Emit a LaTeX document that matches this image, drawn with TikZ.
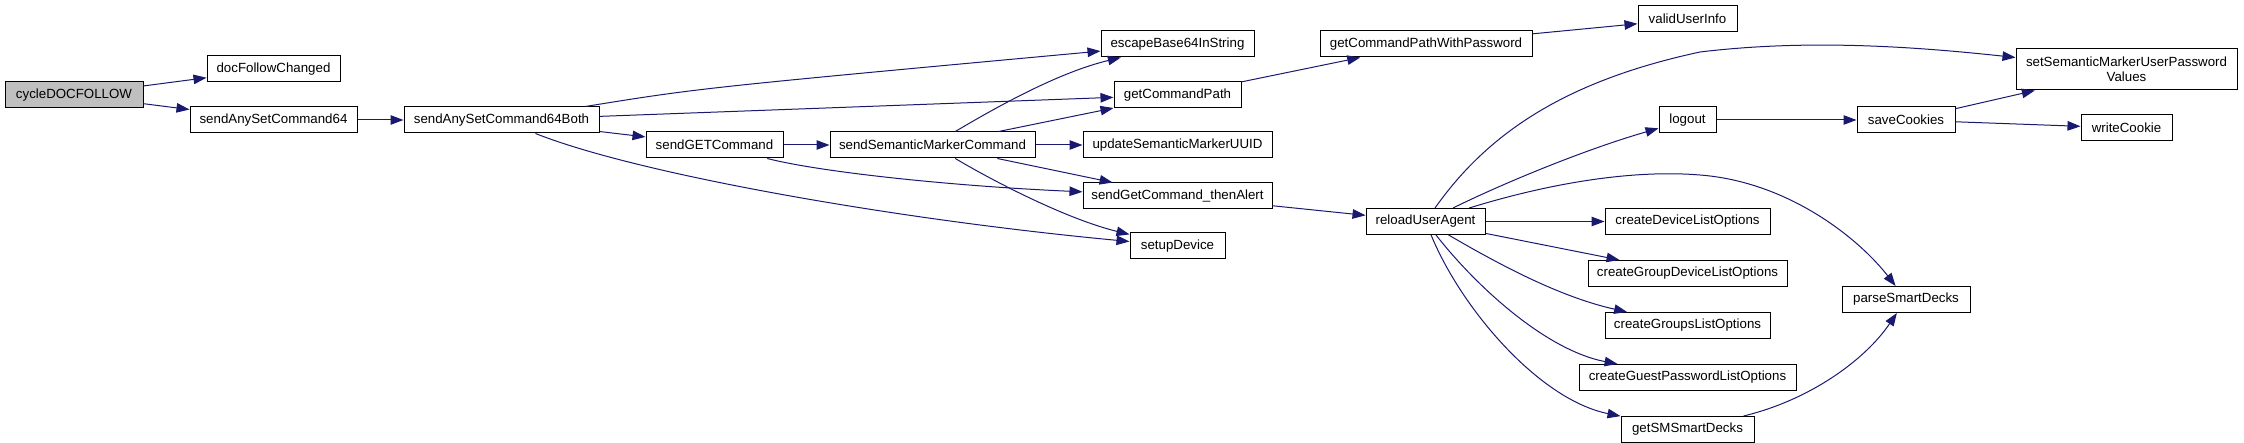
\documentclass[tikz,border=0pt]{standalone}
\usepackage{fontspec}
\setmainfont{Liberation Sans}
\usetikzlibrary{arrows.meta,positioning}
\definecolor{callcolor}{RGB}{25,25,112}
\definecolor{rootcolor}{RGB}{191,191,191}

\begin{document}
\begin{tikzpicture}[x=1pt, y=-1pt,
  func/.style={draw=black, line width=1pt, fill=white, minimum height=26pt,
               inner sep=0pt, align=center, font=\fontsize{13.3}{15.5}\selectfont},
  arr/.style={-{Triangle[length=13pt,width=9.5pt]}, line width=1pt, callcolor}
]
\useasboundingbox (0,0) rectangle (2244,443);

\node[func, fill=rootcolor, minimum width=138pt] (cyc) at (74,95) {cycleDOCFOLLOW};
\node[func, minimum width=133pt] (dfc) at (273.5,69) {docFollowChanged};
\node[func, minimum width=167pt] (sasc) at (273.5,120) {sendAnySetCommand64};
\node[func, minimum width=195pt] (both) at (501.5,120) {sendAnySetCommand64Both};
\node[func, minimum width=137pt] (sget) at (714.5,145) {sendGETCommand};
\node[func, minimum width=205pt] (ssmc) at (932.5,145) {sendSemanticMarkerCommand};

\node[func, minimum width=153pt] (esc) at (1177.5,44) {escapeBase64InString};
\node[func, minimum width=127pt] (gcp) at (1177.5,95) {getCommandPath};
\node[func, minimum width=189pt] (uuid) at (1177.5,145) {updateSemanticMarkerUUID};
\node[func, minimum width=189pt] (alert) at (1177.5,196) {sendGetCommand\_thenAlert};
\node[func, minimum width=95pt] (setup) at (1177.5,246) {setupDevice};

\node[func, minimum width=212pt] (gcpwp) at (1426,44) {getCommandPathWithPassword};
\node[func, minimum width=119pt] (reload) at (1425.5,221.5) {reloadUserAgent};

\node[func, minimum width=99pt] (valid) at (1687.5,19) {validUserInfo};
\node[func, minimum width=57pt] (logout) at (1687.5,120) {logout};
\node[func, minimum width=165pt] (cdlo) at (1687.5,221.5) {createDeviceListOptions};
\node[func, minimum width=199pt, below=25pt of cdlo] (cgdlo) {createGroupDeviceListOptions};
\node[func, minimum width=165pt, below=25pt of cgdlo] (cglo) {createGroupsListOptions};
\node[func, minimum width=217pt, below=25pt of cglo] (cgplo) {createGuestPasswordListOptions};
\node[func, minimum width=133pt, below=25pt of cgplo] (gsmsd) {getSMSmartDecks};

\node[func, minimum width=98pt] (save) at (1906,120) {saveCookies};
\node[func, minimum width=128pt] (parse) at (1906,299.5) {parseSmartDecks};
\node[func, minimum width=221pt, minimum height=41pt] (setsem) at (2126.5,69.5)
  {setSemanticMarkerUserPassword\\Values};
\node[func, minimum width=91pt] (write) at (2126.5,128) {writeCookie};

\draw[arr] (cyc) -- (dfc);
\draw[arr] (cyc) -- (sasc);
\draw[arr] (sasc) -- (both);
\draw[arr] (both) .. controls (700,88) .. (esc);
\draw[arr] (both) -- (gcp);
\draw[arr] (both) -- (sget);
\draw[arr] (both) .. controls (640,175) and (900,220) .. (setup);
\draw[arr] (sget) -- (ssmc);
\draw[arr] (sget) .. controls (820,172) and (950,186) .. (alert);
\draw[arr] (ssmc) .. controls (1000,105) and (1060,72) .. (esc);
\draw[arr] (ssmc) -- (gcp);
\draw[arr] (ssmc) -- (uuid);
\draw[arr] (ssmc) -- (alert);
\draw[arr] (ssmc) .. controls (1000,185) and (1070,220) .. (setup);
\draw[arr] (gcp) -- (gcpwp);
\draw[arr] (gcpwp) -- (valid);
\draw[arr] (alert) -- (reload);
\draw[arr] (reload) .. controls (1490,130) and (1570,80) .. (1700,52)
  .. controls (1800,40) and (1900,45) .. (setsem);
\draw[arr] (reload) .. controls (1510,180) and (1590,148) .. (logout);
\draw[arr] (reload) .. controls (1560,180) and (1640,170) .. (1700,175)
  .. controls (1790,182) and (1860,240) .. (parse);
\draw[arr] (reload) -- (cdlo);
\draw[arr] (reload) -- (cgdlo);
\draw[arr] (reload) .. controls (1500,265) and (1560,297) .. (cglo);
\draw[arr] (reload) .. controls (1475,285) and (1545,350) .. (cgplo);
\draw[arr] (reload) .. controls (1462,310) and (1540,400) .. (gsmsd);
\draw[arr] (logout) -- (save);
\draw[arr] (save) -- (setsem);
\draw[arr] (save) -- (write);
\draw[arr] (gsmsd) .. controls (1810,400) and (1865,360) .. (parse);

\end{tikzpicture}
\end{document}
